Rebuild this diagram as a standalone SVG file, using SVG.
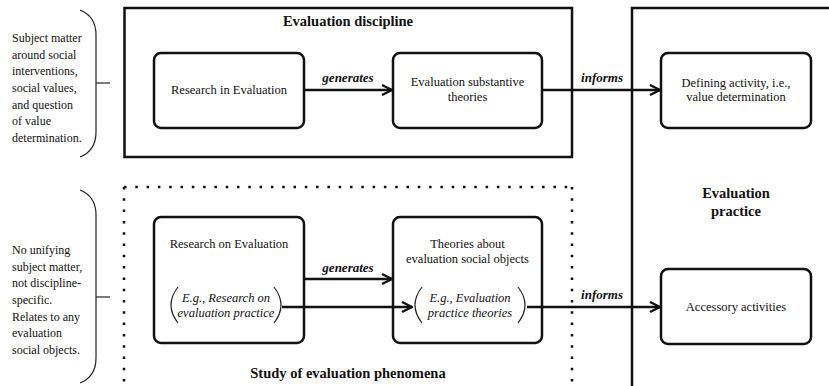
<svg xmlns="http://www.w3.org/2000/svg" width="829" height="386" viewBox="0 0 829 386">
<style>
text{font-family:"Times New Roman",Times,"Liberation Serif","Noto Serif","DejaVu Serif",serif;fill:#111}
.t{font-size:12.5px;text-anchor:middle}
.i{font-size:12.5px;font-style:italic;text-anchor:middle}
.side{font-size:12px}
.title{font-size:14.5px;font-weight:bold;text-anchor:middle}
.lbl{font-size:13px;font-weight:bold;font-style:italic;text-anchor:middle}
.node{fill:#fff;stroke:#111;stroke-width:2.5}
.frame{fill:none;stroke:#111;stroke-width:2.5}
.thin{fill:none;stroke:#222;stroke-width:1.2}
.conn{fill:none;stroke:#111;stroke-width:2.5}
</style>
<defs>
<marker id="ah" viewBox="0 0 12 12" refX="11" refY="6" markerWidth="12" markerHeight="12" markerUnits="userSpaceOnUse" orient="auto">
<path d="M1,1 L11,6 L1,11" fill="none" stroke="#111" stroke-width="2.3"/>
</marker>
</defs>
<rect width="829" height="386" fill="#fff"/>

<g id="side-discipline">
<path class="thin" d="M80,10 C90,14 96,22 96,35 L96,132 C96,145 90,153 80,157"/>
<path class="thin" d="M96,83 H110"/>
<text class="side" x="12" y="42">Subject matter</text>
<text class="side" x="12" y="59">around social</text>
<text class="side" x="12" y="75">interventions,</text>
<text class="side" x="12" y="92">social values,</text>
<text class="side" x="12" y="109">and question</text>
<text class="side" x="12" y="125">of value</text>
<text class="side" x="12" y="142">determination.</text>
</g>

<g id="side-phenomena">
<path class="thin" d="M80,190 C90,194 96,202 96,215 L96,358 C96,371 90,379 80,383"/>
<path class="thin" d="M96,297 H110"/>
<text class="side" x="12" y="254">No unifying</text>
<text class="side" x="12" y="271">subject matter,</text>
<text class="side" x="12" y="287">not discipline-</text>
<text class="side" x="12" y="304">specific.</text>
<text class="side" x="12" y="321">Relates to any</text>
<text class="side" x="12" y="337">evaluation</text>
<text class="side" x="12" y="354">social objects.</text>
</g>

<g id="evaluation-discipline">
<rect class="frame" x="124.5" y="8" width="447.5" height="149"/>
<text class="title" x="348" y="26">Evaluation discipline</text>
</g>

<g id="study-of-evaluation-phenomena">
<path d="M124,187 H572 M124,187 V390 M572,187 V390" fill="none" stroke="#111" stroke-width="2.5" stroke-dasharray="2.5 8.8"/>
<text class="title" x="348" y="378">Study of evaluation phenomena</text>
</g>

<g id="evaluation-practice">
<path class="frame" d="M632,390 V8 H832"/>
<text class="title" x="736" y="198">Evaluation</text>
<text class="title" x="736" y="216">practice</text>
</g>

<g id="research-in-evaluation">
<rect class="node" x="154" y="53" width="150" height="75" rx="7"/>
<text class="t" x="229" y="94">Research in Evaluation</text>
</g>

<g id="evaluation-substantive-theories">
<rect class="node" x="393" y="53" width="149" height="75" rx="7"/>
<text class="t" x="467.5" y="86">Evaluation substantive</text>
<text class="t" x="467.5" y="101">theories</text>
</g>

<g id="defining-activity">
<rect class="node" x="661" y="53" width="150" height="75" rx="7"/>
<text class="t" x="736" y="87">Defining activity, i.e.,</text>
<text class="t" x="736" y="101">value determination</text>
</g>

<g id="research-on-evaluation">
<rect class="node" x="154" y="217" width="150" height="126" rx="7"/>
<text class="t" x="229" y="248">Research on Evaluation</text>
<path class="thin" d="M178,287 Q164,305 178,323"/>
<path class="thin" d="M274,287 Q288,305 274,323"/>
<text class="i" x="226" y="302">E.g., Research on</text>
<text class="i" x="226" y="317">evaluation practice</text>
</g>

<g id="theories-about-evaluation-social-objects">
<rect class="node" x="393" y="217" width="149" height="126" rx="7"/>
<text class="t" x="467.5" y="248">Theories about</text>
<text class="t" x="467.5" y="263">evaluation social objects</text>
<path class="thin" d="M422,287 Q408,305 422,323"/>
<path class="thin" d="M518,287 Q532,305 518,323"/>
<text class="i" x="470" y="302">E.g., Evaluation</text>
<text class="i" x="470" y="317">practice theories</text>
</g>

<g id="accessory-activities">
<rect class="node" x="661" y="269" width="150" height="75" rx="7"/>
<text class="t" x="736" y="311">Accessory activities</text>
</g>

<g id="connectors">
<path class="conn" d="M304,90 H392" marker-end="url(#ah)"/>
<text class="lbl" x="348" y="82">generates</text>
<path class="conn" d="M542,90 H660" marker-end="url(#ah)"/>
<text class="lbl" x="602" y="82">informs</text>
<path class="conn" d="M304,279 H392" marker-end="url(#ah)"/>
<text class="lbl" x="348" y="272">generates</text>
<path class="conn" d="M282,307 H412" marker-end="url(#ah)"/>
<path class="conn" d="M527,307 H660" marker-end="url(#ah)"/>
<text class="lbl" x="602" y="299">informs</text>
</g>
</svg>
